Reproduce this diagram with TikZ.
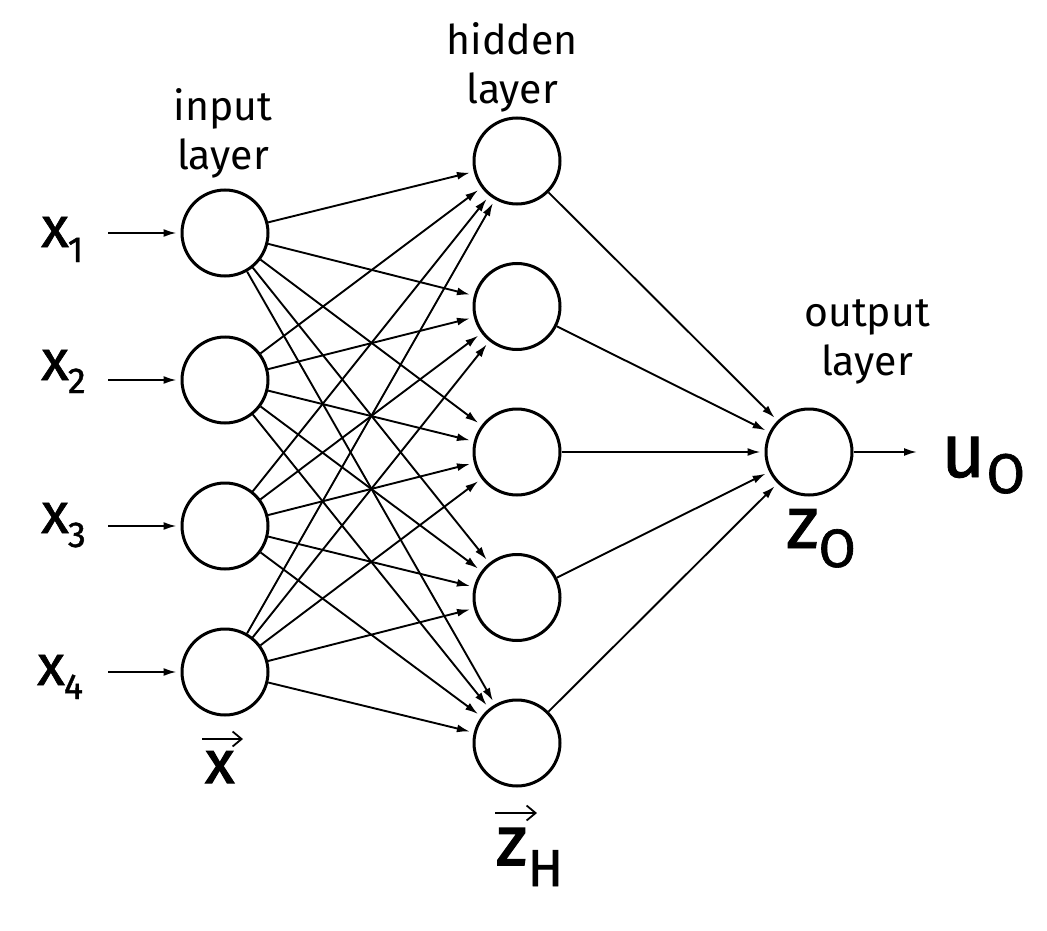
\documentclass[tikz,border=0pt]{standalone}
\usepackage{fontspec}
\setmainfont{Fira Sans}
\newfontfamily\medfont[FakeBold=1.2]{Fira Sans}
\newfontfamily\heavyfont[FakeBold=2.2]{Fira Sans}
\usetikzlibrary{arrows.meta}
\newcommand{\fs}[1]{\fontsize{#1}{#1}\selectfont}
\begin{document}
\begin{tikzpicture}[x=1pt,y=-1pt,
  neuron/.style={circle,draw,line width=3pt,minimum size=86pt,inner sep=0pt},
  conn/.style={line width=1.9pt,-{Latex[length=13pt,width=8pt]},shorten >=4pt},
  lbl/.style={font=\fontsize{41}{49}\selectfont,align=center,inner sep=0pt},
  sym/.style={anchor=base west,inner sep=0pt,font=\medfont},
  vecarrow/.style={line width=2pt,-{Straight Barb[length=9pt,width=15pt,line width=1.8pt]}}
]
\useasboundingbox[fill=white] (0,0) rectangle (1047,931);

% neurons
\node[neuron] (i1) at (225,233) {};
\node[neuron] (i2) at (225,380) {};
\node[neuron] (i3) at (225,526) {};
\node[neuron] (i4) at (225,672) {};
\node[neuron] (h1) at (517,161) {};
\node[neuron] (h2) at (517,306.5) {};
\node[neuron] (h3) at (517,452) {};
\node[neuron] (h4) at (517,597.5) {};
\node[neuron] (h5) at (517,743) {};
\node[neuron] (o) at (809,452) {};

% layer labels
\node[lbl] (linput) at (223,133) {input\\layer};
\node[lbl] (lhidden) at (512,67) {hidden\\layer};
\node[lbl] (loutput) at (867,342) {output\\layer};

% input labels
\node[sym] (x1) at (41,247) {\fs{57}x\kern-1pt\raisebox{-15pt}{\fs{36}1}};
\node[sym] (x2) at (41,380) {\fs{57}x\kern-1pt\raisebox{-13pt}{\fs{36}2}};
\node[sym] (x3) at (41,533) {\fs{57}x\kern-1pt\raisebox{-14pt}{\fs{36}3}};
\node[sym] (x4) at (37,685) {\fs{57}x\kern-1pt\raisebox{-14pt}{\fs{36}4}};

\coordinate (s1) at (108,233);
\coordinate (s2) at (108,380);
\coordinate (s3) at (108,526);
\coordinate (s4) at (108,672);
\foreach \k in {1,...,4} \draw[conn] (s\k) -- (i\k);

% input -> hidden
\foreach \k in {1,...,4}
  \foreach \h in {1,...,5}
    \draw[conn] (i\k) -- (h\h);
% hidden -> output
\foreach \h in {1,...,5} \draw[conn] (h\h) -- (o);

% output
\coordinate (oe) at (917,452);
\draw[conn,shorten >=0pt] (o) -- (oe);
\node[sym] (uo) at (941,477) {\fs{76}u\kern1pt\raisebox{-16pt}{\fs{56}O}};
\node[sym] (zo) at (786,548) {\fs{74}z\kern0pt\raisebox{-19pt}{\fs{54}O}};

% vector labels
\node[sym] (xv) at (205,783) {\heavyfont\fs{60}x};
\draw[vecarrow] (202,739) -- (243,739);
\node[sym] (zh) at (496,865) {{\heavyfont\fs{70}z}\kern1pt\raisebox{-21pt}{\fs{52}H}};
\draw[vecarrow] (495,813) -- (537,813);
\end{tikzpicture}
\end{document}
